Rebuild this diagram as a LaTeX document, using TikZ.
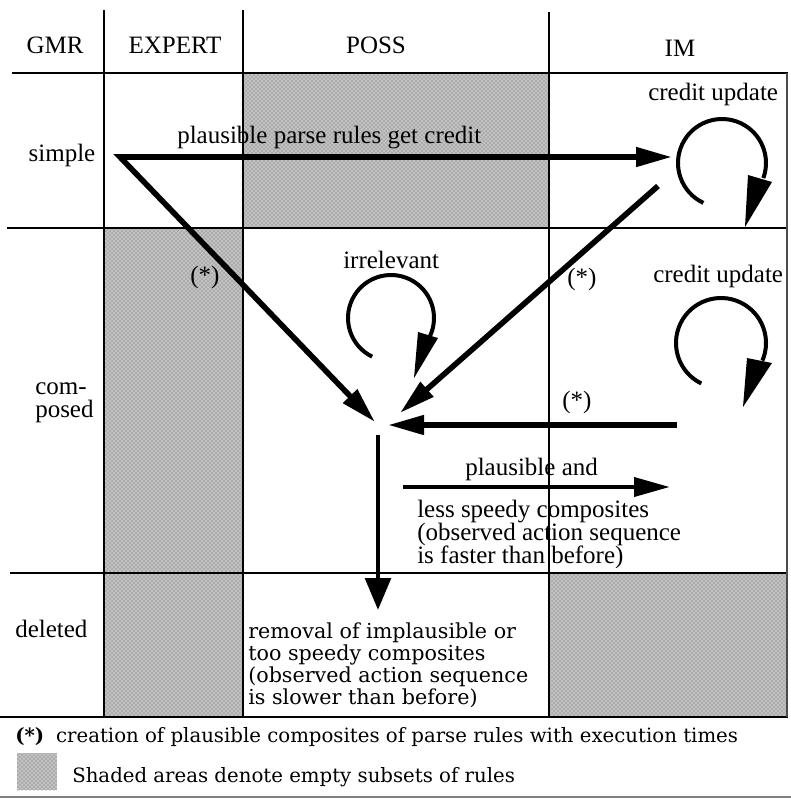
\documentclass[tikz,border=0pt]{standalone}
\usepackage{fontspec}
\setmainfont{Liberation Serif}
\newfontfamily\schoolfont{DejaVu Serif}
\usetikzlibrary{arrows.meta,patterns}

\begin{document}
\begin{tikzpicture}[x=0.75pt,y=-0.75pt,
  grid/.style={line width=1.9pt},
  shadedcell/.style={fill=black!24, postaction={pattern=crosshatch dots, pattern color=black!60}},
  heavy/.style={line width=4.2pt, line join=miter},
  tipA/.style={-{Triangle[length=27pt,width=14pt]}},
  loopline/.style={line width=3pt},
  lbl/.style={font=\fontsize{18.75}{17.25}\selectfont, inner sep=0pt, align=left},
  note/.style={font=\schoolfont\fontsize{15.5}{16.5}\selectfont, inner sep=0pt, align=left},
  legend/.style={font=\schoolfont\fontsize{14.8}{16.5}\selectfont, inner sep=0pt},
]
\useasboundingbox (0,0) rectangle (791,801);

% empty subsets of rules
\fill[shadedcell] (243,73) rectangle (549,228);
\fill[shadedcell] (104,228) rectangle (243,717);
\fill[shadedcell] (549,573) rectangle (786,717);
\fill[shadedcell] (17,753) rectangle (57,790);

% table rules
\draw[grid] (104,10) -- (104,717);
\draw[grid] (243,10) -- (243,717);
\draw[grid] (549,12) -- (549,717);
\draw[grid] (12,73) -- (788,73);
\draw[grid] (7,228) -- (788,228);
\draw[grid] (10,573) -- (788,573);
\draw[grid] (0,717) -- (788,717);
\draw[line width=1.1pt, black!70] (787,73) -- (787,717);
\draw[line width=1.2pt, black!50] (0,797) -- (791,797);

% column and row headings
\node[lbl, anchor=base] (hGMR) at (55,53) {GMR};
\node[lbl, anchor=base] (hEXP) at (175,53) {EXPERT};
\node[lbl, anchor=base] (hPOSS) at (376,53) {POSS};
\node[lbl, anchor=base] (hIM) at (680,56) {IM};
\node[lbl, anchor=base] (rSimple) at (62,161) {simple};
% multi-line nodes: the base anchor sits on the last line
\node[lbl, anchor=base west] (rComp) at (35,417) {com-\\posed};
\node[lbl, anchor=base west] (rDel) at (15,637) {deleted};

% labels inside the cells
\node[lbl, anchor=base west] (tCredit) at (177,143) {plausible parse rules get credit};
\node[lbl, anchor=base west] (tUpd1) at (648,100) {credit update};
\node[lbl, anchor=base west] (tUpd2) at (653,282) {credit update};
\node[lbl, anchor=base west] (tIrr) at (343,268) {irrelevant};
\node[lbl, anchor=base west] (tStarA) at (190,283) {(*)};
\node[lbl, anchor=base west] (tStarB) at (567,285) {(*)};
\node[lbl, anchor=base west] (tStarC) at (562,408) {(*)};
\node[lbl, anchor=base west] (tPlaus) at (465,475) {plausible and};
\node[lbl, anchor=base west] (tLess) at (417,563)
  {less speedy composites\\(observed action sequence\\is faster than before)};
\node[note, anchor=base west] (tRemove) at (248,704)
  {removal of implausible or\\too speedy composites\\(observed action sequence\\is slower than before)};

% legend
\node[legend, anchor=base west] (fStar) at (15,742)
  {\textbf{(*)}\hspace{0.6em}creation of plausible composites of parse rules with execution times};
\node[legend, anchor=base west] (fShade) at (72,782) {Shaded areas denote empty subsets of rules};

% connector end points
\coordinate (src) at (120,157);
\coordinate (imIn) at (672,157);
\coordinate (jL) at (375,422);
\coordinate (imOut) at (658,186);
\coordinate (jR) at (400,413);
\coordinate (stOut) at (677,425);
\coordinate (jH) at (388,425);
\coordinate (jD) at (378,435);
\coordinate (delIn) at (378,610);
\coordinate (plA) at (403,487);
\coordinate (plB) at (670,487);

% connectors
\draw[heavy, {Triangle[length=27pt,width=14pt]}-{Triangle[length=27pt,width=14pt]}]
  (imIn) -- (src) -- (jL);
\draw[heavy, tipA] (imOut) -- (jR);
\draw[heavy, tipA] (stOut) -- (jH);
\draw[line width=3.6pt, -{Triangle[length=24pt,width=19pt]}] (jD) -- (delIn);
\draw[line width=3.6pt, tipA] (plA) -- (plB);

% credit update loop (simple rules)
\draw[loopline] (722,163) ++(115:44) arc[start angle=115, end angle=380, radius=44];
\fill (748,175) -- (772,182) -- (745,227) -- cycle;
% irrelevant loop
\draw[loopline] (391,318) ++(116:43) arc[start angle=116, end angle=385, radius=43];
\fill (418,332) -- (438,338) -- (414,378) -- cycle;
% credit update loop (composed rules)
\draw[loopline] (721,343) ++(116:45) arc[start angle=116, end angle=383, radius=45];
\fill (747,358) -- (772,363) -- (743,407) -- cycle;
\end{tikzpicture}
\end{document}
